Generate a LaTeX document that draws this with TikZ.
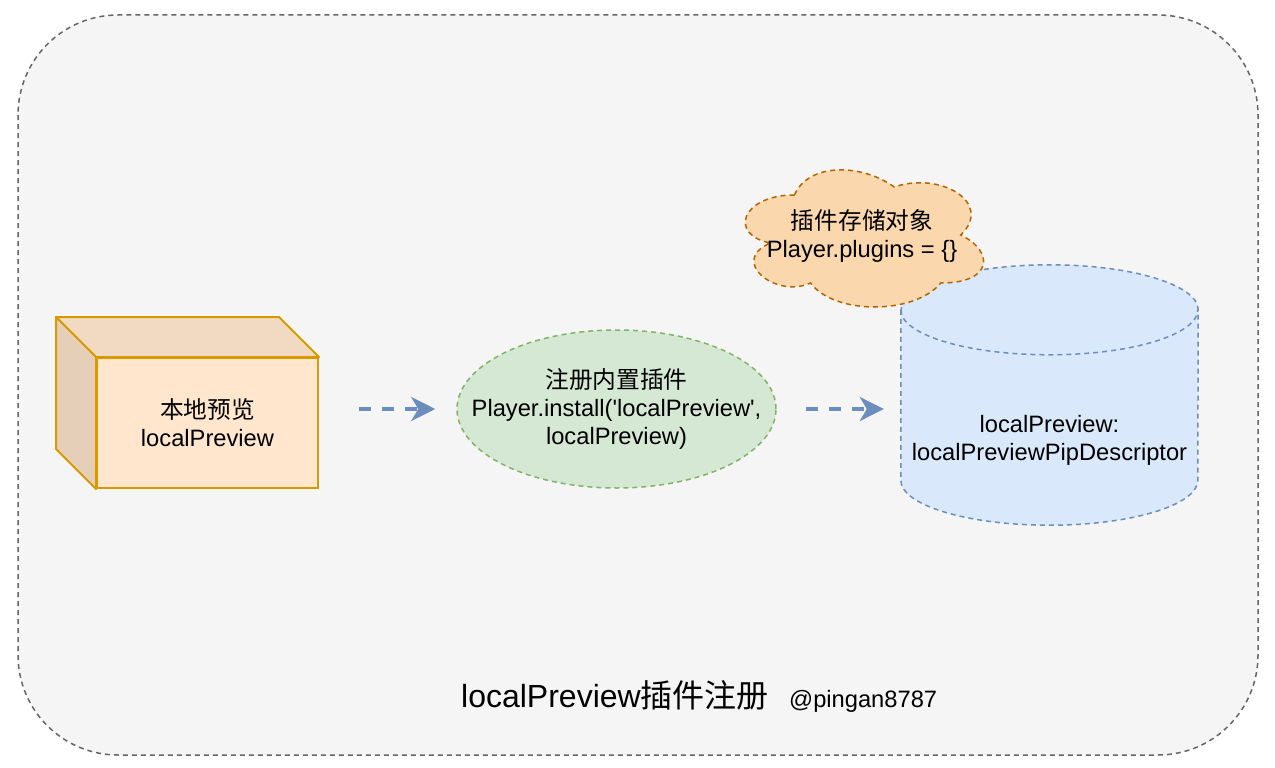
\documentclass[tikz,border=0pt]{standalone}
\usepackage{fontspec}
\setmainfont{Liberation Sans}
\newfontfamily\cjk{Noto Sans CJK SC}
\usepackage{tikz}
\usetikzlibrary{arrows.meta,positioning,calc,shapes.geometric,backgrounds}
\usepackage{xcolor}
\definecolor{framefill}{HTML}{F5F5F5}
\definecolor{frameline}{HTML}{666666}
\definecolor{cubefill}{HTML}{FFE6CC}
\definecolor{cubeline}{HTML}{D79B00}
\definecolor{greenfill}{HTML}{D5E8D4}
\definecolor{greenline}{HTML}{82B366}
\definecolor{bluefill}{HTML}{DAE8FC}
\definecolor{blueline}{HTML}{6C8EBF}
\definecolor{cloudfill}{HTML}{FAD7AC}
\definecolor{cloudline}{HTML}{B46504}
\newcommand{\zh}[1]{{\cjk #1}}
\newcommand{\bodysize}{\fontsize{23.7}{28}\selectfont}
\tikzset{
  dashline/.style ={line width=1.5pt, dash pattern=on 5pt off 4pt},
  frontface/.style={draw=cubeline, fill=cubefill, line width=2pt,
                    minimum width=221pt, minimum height=130pt,
                    inner sep=0pt, align=center, font=\bodysize},
  sideface/.style ={draw=cubeline, line width=2pt, line join=round},
  regnode/.style  ={ellipse, draw=greenline, fill=greenfill, dashline,
                    minimum width=319pt, minimum height=158pt,
                    inner xsep=-40pt, inner ysep=0pt, align=center,
                    font=\bodysize},
  storebox/.style ={minimum width=297pt, minimum height=170pt,
                    inner sep=0pt, align=center, font=\bodysize},
  cylshape/.style ={draw=blueline, fill=bluefill, dashline},
  cloudshape/.style={draw=cloudline, fill=cloudfill, dashline},
  plaintext/.style={inner sep=0pt, align=center, font=\bodysize},
  titletext/.style={inner sep=0pt, font=\fontsize{32}{38}\selectfont},
  flow/.style     ={-{Stealth[length=24pt, width=24pt, inset=7pt]},
                    line width=4pt, blueline, dash pattern=on 12pt off 11pt},
}
\begin{document}
\begin{tikzpicture}[x=1pt, y=1pt]
  \begin{scope}[on background layer]
    \path[fill=white, use as bounding box] (0,0) rectangle (1275,-768);
    \draw[fill=framefill, draw=frameline, dashline, rounded corners=100pt]
      (18,-15) rectangle (1258,-755);
  \end{scope}

  % cube
  \node[frontface] (preview) at (207.5,-423)
    {\zh{本地预览}\\localPreview};
  \begin{scope}[on background layer]
    \draw[sideface, fill=cubefill!95!black] (preview.north west) -- ++(-40,40)
      -- ($(preview.north east)+(-40,40)$) -- (preview.north east) -- cycle;
    \draw[sideface, fill=cubefill!90!black] (preview.north west) -- ++(-40,40)
      -- ($(preview.south west)+(-40,40)$) -- (preview.south west) -- cycle;
  \end{scope}

  \node[regnode] (install) at (616.5,-409)
    {\zh{注册内置插件}\\Player.install(\textquotesingle localPreview\textquotesingle,\\localPreview)};

  % cylinder
  \node[storebox] (store) at (1049.5,-440)
    {localPreview:\\localPreviewPipDescriptor};
  \begin{scope}[on background layer]
    \path[cylshape] ($(store.north west)+(0,45)$) -- ($(store.south west)+(0,45)$)
      arc[start angle=180, end angle=360, x radius=148.5pt, y radius=45pt]
      -- ($(store.north east)+(0,45)$)
      arc[start angle=0, end angle=180, x radius=148.5pt, y radius=45pt] -- cycle;
    \draw[cylshape, fill=none] ($(store.north west)+(0,45)$)
      arc[start angle=180, end angle=360, x radius=148.5pt, y radius=45pt];
  \end{scope}

  % cloud
  \draw[cloudshape] (794.5,-195)
    .. controls (741.3,-195) and (728,-235) .. (770.6,-243)
    .. controls (728,-260.6) and (775.9,-299) .. (810.5,-283)
    .. controls (834.4,-315) and (914.2,-315) .. (940.8,-283)
    .. controls (994,-283) and (994,-251) .. (960.75,-235)
    .. controls (994,-203) and (940.8,-171) .. (894.25,-187)
    .. controls (861,-163) and (807.8,-163) .. (794.5,-195) -- cycle;
  \node[plaintext] (plugins) at (862,-236)
    {\zh{插件存储对象}\\Player.plugins = \{\}};

  \draw[flow, yshift=4pt, shorten <=40pt, shorten >=21pt]
    (preview.east |- install.west) -- (install.west);
  \draw[flow, yshift=4pt, shorten <=29pt, shorten >=17pt]
    (install.east) -- (install.east -| store.west);

  \node[titletext, anchor=base] (title) at (615,-707)
    {localPreview\zh{插件注册}};
  \node[plaintext, right=20pt of title.base east, anchor=base west] (author)
    {@pingan8787};
\end{tikzpicture}
\end{document}
